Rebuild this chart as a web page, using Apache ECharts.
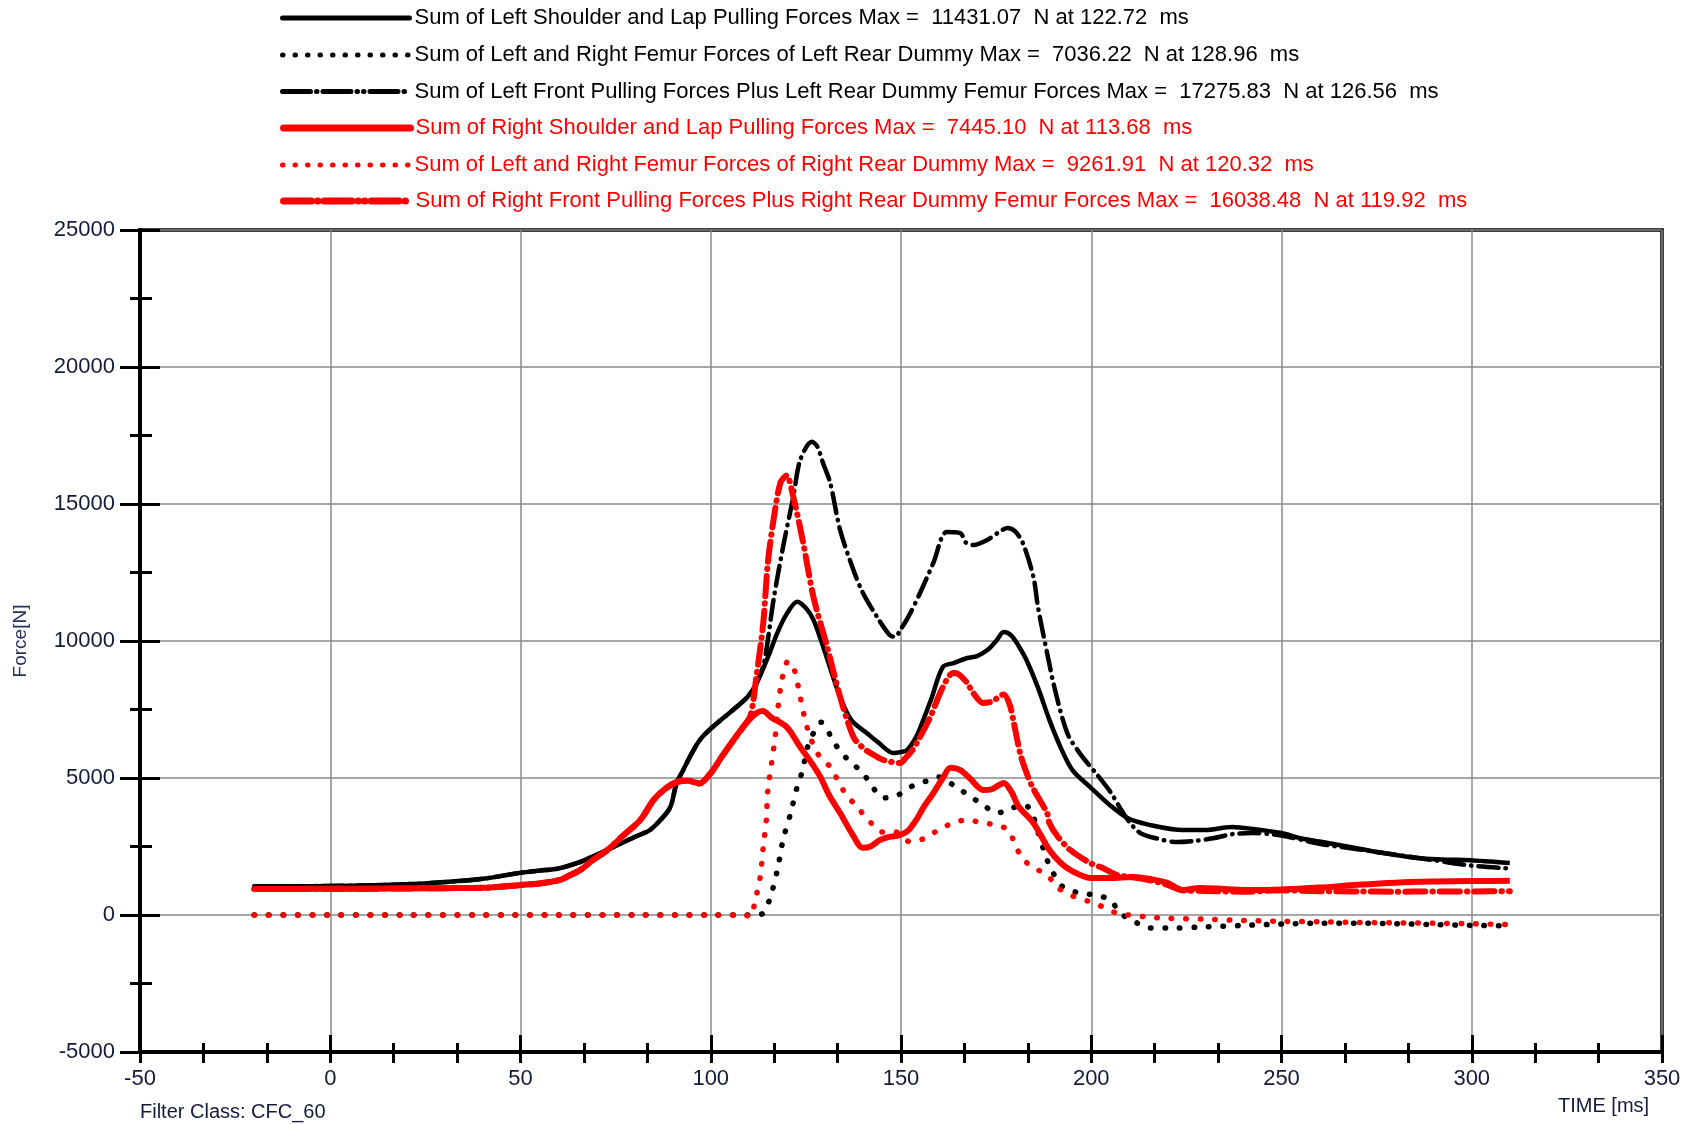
<!DOCTYPE html>
<html>
<head>
<meta charset="utf-8">
<script src="https://cdn.jsdelivr.net/npm/echarts@6/dist/echarts.min.js"></script>
<style>
html,body{margin:0;padding:0;background:#fff;}
#chart{width:1688px;height:1124px;}
</style>
</head>
<body>
<div id="chart"></div>
<script>
// ---------------- data (time ms, force N) ----------------
const leftShoulderLap = [[-20,1050],[-10,1050],[0,1060],[10,1080],[20,1120],[30,1200],[40,1320],[50,1540],[55,1620],[60,1700],[65,1900],[70,2200],[75,2520],[80,2850],[84,3100],[87,3500],[89.4,3950],[91,4800],[92.8,5300],[95,5900],[97.2,6400],[100,6800],[102.5,7100],[106,7500],[109.6,7950],[112,8450],[115,9400],[117.5,10300],[120,11000],[122.72,11431],[125,11200],[127,10770],[130,9600],[134,7950],[137,7100],[141,6640],[144,6300],[148,5910],[150,5950],[151.6,6020],[154,6500],[155.8,7100],[158,7900],[161,9050],[164,9200],[167.4,9380],[170,9450],[172.7,9670],[175,10000],[177,10330],[179,10200],[181,9800],[183,9300],[186,8300],[189,7120],[192,6100],[195,5300],[199.7,4670],[205,4000],[209.5,3540],[215,3300],[224,3100],[230,3100],[237,3210],[242,3150],[250,2990],[255,2800],[260,2680],[268,2480],[275,2300],[285.7,2080],[292,2030],[299.6,2000],[305,1950],[310,1900]];

const leftRearFemur = [[-20,0],[0,0],[20,0],[40,0],[60,0],[80,0],[100,0],[112,0],[113.8,70],[115.6,620],[117.5,1640],[119,2740],[121,3720],[122.7,4670],[124,5220],[126,6390],[128,6830],[128.96,7036],[130,6940],[132,6390],[134.5,5900],[137,5550],[140,5180],[142.5,4670],[145.4,4270],[147,4300],[149.3,4380],[153,4710],[157,4900],[160.3,5040],[164,4710],[167.7,4380],[171.6,4015],[175.3,3720],[179,3900],[182.6,4015],[184.8,3580],[186,3030],[188.4,2010],[190,1530],[192.6,1020],[197,800],[201,730],[205,550],[207.6,70],[212,-290],[215.5,-475],[222.6,-475],[228.6,-440],[240,-380],[250,-330],[260,-300],[270,-300],[280,-320],[290,-350],[300,-380],[310,-400]];

const leftFrontPlusFemur = [[-20,1050],[-10,1050],[0,1060],[10,1080],[20,1120],[30,1200],[40,1320],[50,1540],[55,1620],[60,1700],[65,1900],[70,2200],[75,2520],[80,2850],[84,3100],[87,3500],[89.4,3950],[91,4800],[92.8,5300],[95,5900],[97.2,6400],[100,6800],[102.5,7100],[106,7500],[109.6,7950],[112,8450],[114,9200],[116.5,11500],[119,13430],[121.7,15260],[123.5,16600],[126.56,17276],[128,17100],[129.5,16500],[131.4,15770],[134,14050],[137.5,12590],[140,11750],[143.7,10880],[147,10220],[148.5,10150],[149.8,10400],[152,10900],[155,11750],[158.5,12850],[162,13980],[165.6,13940],[167,13600],[169,13500],[172.7,13690],[176,14000],[178,14125],[180,14000],[182,13580],[184.8,12340],[186,11240],[188.4,9560],[190.5,8200],[193.7,6640],[197,5900],[201.6,5110],[205,4500],[207.6,3900],[210,3400],[212.9,2990],[217,2800],[222.6,2660],[227,2700],[232,2800],[237,2950],[242.6,2990],[250,2900],[260,2600],[270,2400],[280,2200],[290,2000],[300,1800],[310,1700]];

const rightShoulderLap = [[-20,950],[-10,950],[0,960],[10,960],[20,970],[30,980],[40,990],[50,1095],[55,1150],[60.4,1280],[63,1450],[65.7,1640],[69,2000],[72.8,2370],[77,2900],[81.5,3470],[85,4200],[88,4600],[91,4850],[94,4900],[97,4800],[100,5180],[103,5800],[106,6390],[109,6950],[112,7370],[113.68,7445],[116,7200],[120,6860],[123.5,6130],[126,5650],[128.8,5040],[131,4400],[134,3720],[137,3000],[140,2450],[142,2500],[144.5,2740],[147,2850],[149.8,2920],[152,3100],[154,3470],[156,3950],[158.5,4450],[161,5000],[163,5370],[165.6,5290],[168,5000],[171.6,4560],[174,4600],[177,4820],[179,4500],[181,3940],[184.8,3360],[189,2370],[192,1900],[195,1600],[199.7,1350],[205,1350],[211,1390],[216,1300],[220,1170],[224,910],[228.6,985],[235,950],[242,910],[250,930],[260,1000],[270,1100],[280,1180],[290,1220],[300,1240],[310,1250]];

const rightRearFemur = [[-20,0],[0,0],[20,0],[40,0],[60,0],[80,0],[100,0],[109,0],[110.4,-70],[111.7,550],[113,1390],[113.8,2480],[114.6,3470],[115,4560],[116,5550],[117,6570],[117.7,7590],[118.8,8650],[120.32,9262],[122,8940],[123.5,7960],[125.3,6860],[128,5910],[131.4,5400],[135.3,4450],[138.5,3940],[141.4,3470],[145,3030],[148.5,3030],[152.4,2670],[156.4,2810],[159.8,3100],[163.7,3360],[167.4,3470],[171.4,3360],[174.8,3290],[178.2,3100],[180,2560],[182,2050],[184.8,1730],[188.4,1460],[191.3,990],[195,700],[199.7,480],[203,300],[206.8,70],[214.7,-70],[220,-120],[230,-150],[240,-200],[250,-230],[260,-250],[270,-270],[280,-290],[290,-300],[300,-320],[310,-350]];

const rightFrontPlusFemur = [[-20,950],[-10,950],[0,960],[10,960],[20,970],[30,980],[40,990],[50,1095],[55,1150],[60.4,1280],[63,1450],[65.7,1640],[69,2000],[72.8,2370],[77,2900],[81.5,3470],[85,4200],[88,4600],[91,4850],[94,4900],[97,4800],[100,5180],[103,5800],[106,6390],[109,6950],[110.5,7300],[112,8690],[113.8,10660],[115,12850],[116.5,14420],[118.3,15770],[119.92,16038],[121.7,15260],[124.3,13580],[127,11600],[130.6,9780],[134,7960],[137.5,6500],[140,6100],[142,5910],[145.3,5660],[149.8,5550],[151,5700],[153,6020],[155,6500],[157.7,7230],[161,8320],[163.7,8830],[165,8800],[167.4,8470],[169,8100],[171.6,7740],[174,7800],[177,8050],[178.5,7700],[179.5,7120],[181.3,5910],[183,5180],[184.8,4600],[188.4,3720],[189,3360],[191,2900],[194.5,2370],[199.7,1900],[203,1715],[207,1450],[211,1380],[216,1250],[220,1100],[224,900],[230,880],[240,850],[250,900],[260,870],[270,860],[280,850],[290,860],[300,860],[310,870]];

const seriesNames = [
  'Sum of Left Shoulder and Lap Pulling Forces Max =  11431.07  N at 122.72  ms',
  'Sum of Left and Right Femur Forces of Left Rear Dummy Max =  7036.22  N at 128.96  ms',
  'Sum of Left Front Pulling Forces Plus Left Rear Dummy Femur Forces Max =  17275.83  N at 126.56  ms',
  'Sum of Right Shoulder and Lap Pulling Forces Max =  7445.10  N at 113.68  ms',
  'Sum of Left and Right Femur Forces of Right Rear Dummy Max =  9261.91  N at 120.32  ms',
  'Sum of Right Front Pulling Forces Plus Right Rear Dummy Femur Forces Max =  16038.48  N at 119.92  ms'
];
const seriesData = [leftShoulderLap, leftRearFemur, leftFrontPlusFemur, rightShoulderLap, rightRearFemur, rightFrontPlusFemur];
const xTickMin = -50, xTickMax = 350, xTickStep = 50;
const yTickMin = -5000, yTickMax = 25000, yTickStep = 5000;
const xAxisTitle = 'TIME [ms]';
const yAxisTitle = 'Force[N]';
const footNote = 'Filter Class: CFC_60';

// ---------------- styles ----------------
const FONT = 'Liberation Sans, Arial, sans-serif';
const LBL = '#15193a';
const DOT = [0.5, 14];
const DASHDOT = [20, 7, 0.5, 7];
const styles = [
  {color:'#000000', width:4.5, type:'solid', cap:'butt'},
  {color:'#000000', width:5.5, type:DOT, cap:'round'},
  {color:'#000000', width:4.5, type:DASHDOT, cap:'round'},
  {color:'#ff0000', width:6, type:'solid', cap:'butt'},
  {color:'#ff0000', width:5.5, type:DOT, cap:'round'},
  {color:'#ff0000', width:6, type:DASHDOT, cap:'round'}
];
const legendStyles = [
  {width:5, type:'solid'},
  {width:5, type:[0.5,12]},
  {width:5, type:[28,6,0.5,6,28,6,0.5,6,0.5,6]},
  {width:7, type:'solid'},
  {width:5, type:[0.5,12]},
  {width:7, type:[28,6,0.5,6,28,6,0.5,6,0.5,6]}
];
const legendRowCenters = [18, 55, 91.5, 128, 165, 201];

const chart = echarts.init(document.getElementById('chart'), null, {renderer:'canvas'});

const series = seriesNames.map((n, i) => ({
  name: n,
  type: 'line',
  data: seriesData[i],
  xAxisIndex: 0, yAxisIndex: 0,
  symbol: 'none',
  showSymbol: false,
  smooth: 0.3,
  lineStyle: {color: styles[i].color, width: styles[i].width, type: styles[i].type, cap: styles[i].cap, join:'round'},
  itemStyle: {color: styles[i].color},
  z: 3 + i
}));

const legends = seriesNames.map((n, i) => ({
  show: true,
  data: [n],
  left: 280,
  top: legendRowCenters[i] - 11,
  padding: 0,
  itemWidth: 127,
  itemHeight: 14,
  selectedMode: false,
  itemStyle: {color: 'rgba(0,0,0,0)', borderColor: 'rgba(0,0,0,0)', borderWidth: 0},
  lineStyle: {color: styles[i].color, width: legendStyles[i].width, type: legendStyles[i].type, cap: 'round'},
  textStyle: {color: styles[i].color, fontSize: 22, fontFamily: FONT}
}));

const axisBase = {
  type: 'value',
  min: xTickMin, max: xTickMax, interval: xTickStep
};
const plainNum = v => String(v);

const option = {
  animation: false,
  backgroundColor: '#fff',
  legend: legends,
  grid: {left: 140, right: 26, top: 230, bottom: 72, show: true, borderColor: '#000', borderWidth: 3.5, backgroundColor: 'transparent'},
  xAxis: [
    Object.assign({}, axisBase, {
      position: 'bottom',
      axisLine: {show: true, onZero: false, lineStyle: {color: '#000', width: 4}},
      axisTick: {show: true, inside: false, length: 11, lineStyle: {color: '#000', width: 3}},
      minorTick: {show: true, splitNumber: 3, length: 11, lineStyle: {color: '#000', width: 3}},
      axisLabel: {show: true, margin: 16, fontSize: 22, fontFamily: FONT, color: LBL, formatter: plainNum},
      splitLine: {show: true, lineStyle: {color: '#8a8a8a', width: 1.5}},
      minorSplitLine: {show: false}
    }),
    Object.assign({}, axisBase, {
      position: 'bottom',
      axisLine: {show: false, onZero: false},
      axisTick: {show: true, inside: true, length: 17, lineStyle: {color: '#000', width: 3}},
      minorTick: {show: true, splitNumber: 3, length: 9, lineStyle: {color: '#000', width: 3}},
      axisLabel: {show: false},
      splitLine: {show: false}
    })
  ],
  yAxis: [
    {
      type: 'value', min: yTickMin, max: yTickMax, interval: yTickStep, position: 'left',
      name: yAxisTitle, nameLocation: 'middle', nameGap: 110, nameRotate: 90,
      nameTextStyle: {fontSize: 19, fontFamily: FONT, color: '#27315c'},
      axisLine: {show: true, onZero: false, lineStyle: {color: '#000', width: 4}},
      axisTick: {show: true, inside: false, length: 20, lineStyle: {color: '#000', width: 3}},
      minorTick: {show: true, splitNumber: 2, length: 10, lineStyle: {color: '#000', width: 3}},
      axisLabel: {show: true, margin: 25, fontSize: 22, fontFamily: FONT, color: LBL, formatter: plainNum},
      splitLine: {show: true, lineStyle: {color: '#8a8a8a', width: 1.5}},
      minorSplitLine: {show: false}
    },
    {
      type: 'value', min: yTickMin, max: yTickMax, interval: yTickStep, position: 'left',
      axisLine: {show: false, onZero: false},
      axisTick: {show: true, inside: true, length: 20, lineStyle: {color: '#000', width: 3}},
      minorTick: {show: true, splitNumber: 2, length: 12, lineStyle: {color: '#000', width: 3}},
      axisLabel: {show: false},
      splitLine: {show: false}
    }
  ],
  graphic: [
    {type: 'text', left: 140, top: 1102, style: {text: footNote, fontSize: 20, fontFamily: FONT, fill: LBL}},
    {type: 'text', left: 1558, top: 1096, style: {text: xAxisTitle, fontSize: 20, fontFamily: FONT, fill: LBL}}
  ],
  series: series
};
chart.setOption(option);
</script>
</body>
</html>
